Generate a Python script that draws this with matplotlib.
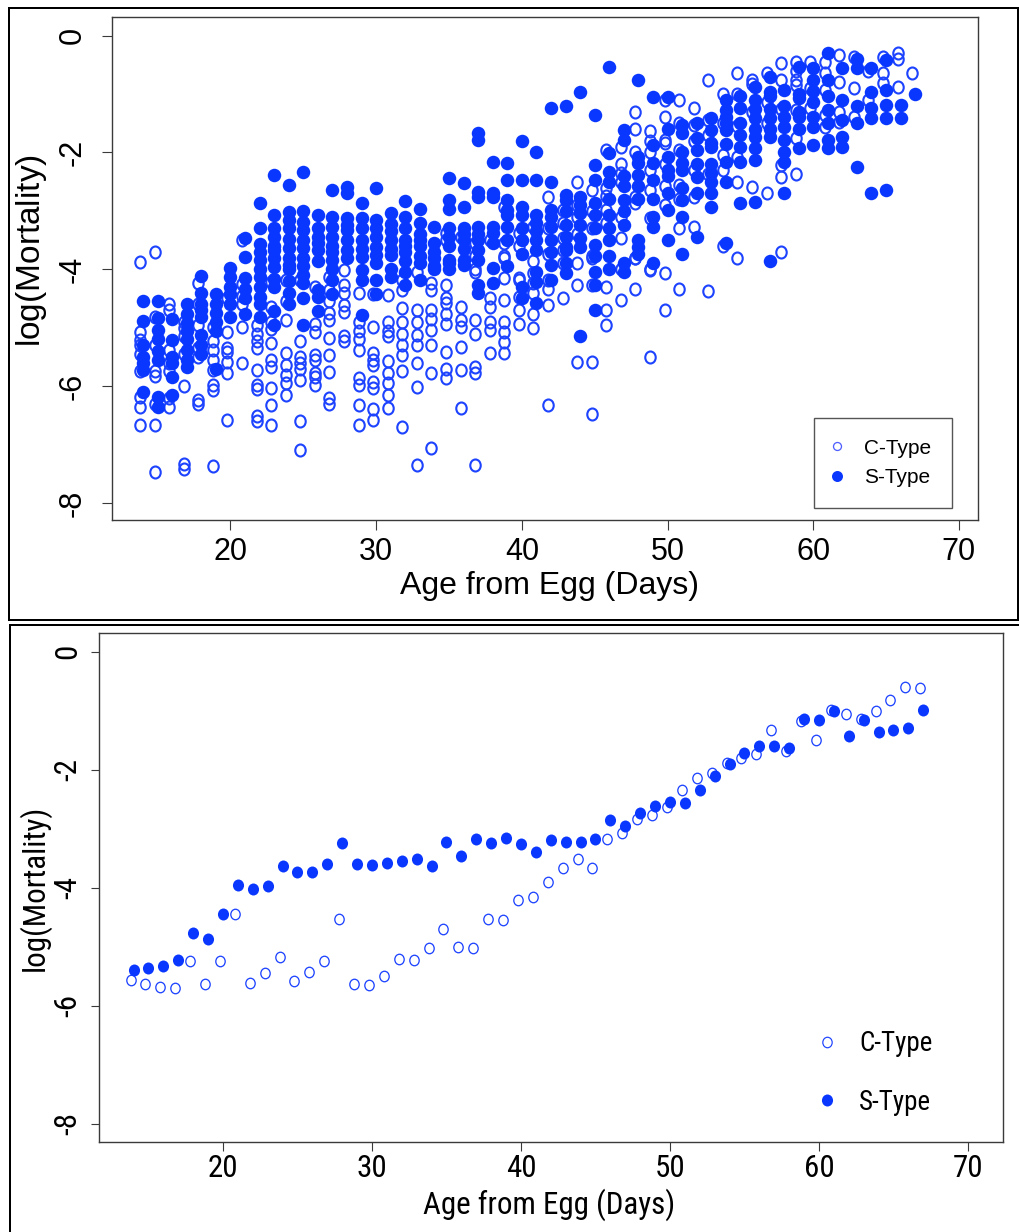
import numpy as np
import matplotlib
matplotlib.use("Agg")
import matplotlib.pyplot as plt
from matplotlib.path import Path
from matplotlib.lines import Line2D
from matplotlib.patches import Rectangle
import matplotlib.transforms as mtrans
from matplotlib import font_manager as fm

# ---------------- data ----------------
days = [14, 15, 16, 17, 18, 19, 20, 21, 22, 23, 24, 25, 26, 27, 28, 29, 30, 31, 32, 33,
        34, 35, 36, 37, 38, 39, 40, 41, 42, 43, 44, 45, 46, 47, 48, 49, 50, 51, 52, 53,
        54, 55, 56, 57, 58, 59, 60, 61, 62, 63, 64, 65, 66, 67]

# top panel: replicate log-mortality values per day (C-Type, open)
top_c = [
    [-3.88, -5.07, -5.21, -5.3, -5.45, -5.75, -6.18, -6.35, -6.67],
    [-3.71, -4.81, -5.3, -5.75, -5.82, -6.3, -6.67, -7.47],
    [-4.59, -4.7, -5.38, -5.6, -5.75, -6.2, -6.35],
    [-4.9, -5.0, -5.15, -5.45, -6.0, -7.33, -7.42],
    [-4.24, -4.6, -4.95, -5.35, -5.5, -6.23, -6.3],
    [-4.98, -5.23, -5.38, -5.55, -5.72, -5.98, -6.07, -7.37],
    [-4.5, -5.07, -5.35, -5.42, -5.58, -5.78, -6.58],
    [-3.5, -4.25, -4.45, -4.6, -4.98, -5.6],
    [-4.95, -5.1, -5.23, -5.35, -5.73, -5.98, -6.05, -6.52, -6.6],
    [-4.21, -4.64, -4.9, -5.03, -5.27, -5.55, -5.67, -6.04, -6.32, -6.67],
    [-4.18, -4.55, -4.87, -5.44, -5.64, -5.81, -5.95, -6.15],
    [-4.18, -5.23, -5.5, -5.6, -5.7, -5.9, -6.6, -7.1],
    [-4.3, -4.93, -5.07, -5.47, -5.55, -5.78, -5.84, -5.98],
    [-4.13, -4.36, -4.55, -4.75, -4.87, -5.17, -5.47, -5.76, -6.2, -6.3],
    [-4.01, -4.27, -4.41, -4.61, -4.73, -5.15, -5.22],
    [-4.41, -4.9, -5.05, -5.2, -5.38, -5.87, -5.98, -6.32, -6.67],
    [-4.42, -4.99, -5.44, -5.55, -5.64, -5.93, -6.04, -6.4, -6.58],
    [-4.44, -4.9, -5.05, -5.15, -5.57, -5.78, -5.95, -6.15, -6.37],
    [-4.18, -4.35, -4.67, -4.9, -5.1, -5.3, -5.46, -5.75, -6.7],
    [-4.04, -4.7, -4.9, -5.13, -5.3, -5.61, -6.01, -7.35],
    [-4.24, -4.35, -4.7, -4.85, -5.04, -5.3, -5.78, -7.06],
    [-3.38, -3.5, -4.27, -4.5, -4.58, -4.76, -4.93, -5.41, -5.7, -5.87],
    [-3.44, -4.64, -4.87, -4.98, -5.33, -5.73, -6.38],
    [-3.55, -3.78, -4.0, -4.04, -4.87, -5.1, -5.67, -5.78, -7.35],
    [-3.5, -4.5, -4.64, -4.9, -5.04, -5.44],
    [-2.93, -3.55, -3.78, -3.81, -4.15, -4.52, -4.9, -5.07, -5.24, -5.44],
    [-3.38, -3.6, -4.15, -4.18, -4.47, -4.7, -4.93],
    [-3.27, -3.85, -4.07, -4.24, -4.41, -4.76, -5.01],
    [-2.76, -3.3, -3.73, -4.18, -4.33, -4.61, -6.32],
    [-2.98, -3.2, -3.47, -3.67, -3.9, -4.5],
    [-2.5, -2.9, -3.1, -3.4, -3.9, -4.27, -5.58],
    [-2.64, -3.0, -3.3, -3.78, -3.81, -4.27, -5.58, -6.47],
    [-1.96, -2.6, -2.75, -2.98, -3.2, -4.3, -4.7, -4.95],
    [-1.9, -2.2, -2.35, -2.5, -3.1, -3.47, -4.0, -4.52],
    [-1.3, -1.6, -2.0, -2.76, -2.87, -3.8, -3.81, -4.33],
    [-1.64, -1.81, -2.0, -2.3, -2.64, -3.12, -4.0, -4.01, -5.5],
    [-1.1, -1.39, -1.78, -1.84, -2.2, -2.58, -2.9, -4.07, -4.7],
    [-1.1, -1.5, -1.96, -2.55, -2.8, -3.3, -4.33],
    [-1.23, -1.53, -1.8, -2.3, -2.76, -3.27],
    [-0.76, -1.44, -1.7, -2.36, -4.38],
    [-0.99, -1.5, -2.04, -2.3, -3.6],
    [-0.64, -1.0, -1.55, -2.07, -2.5, -3.8],
    [-0.76, -0.82, -1.3, -2.59],
    [-0.64, -1.13, -1.5, -2.7],
    [-0.47, -0.76, -1.25, -2.22, -2.42, -3.7],
    [-0.45, -0.6, -0.76, -0.85, -1.27, -1.76, -2.36],
    [-0.45, -0.9, -1.24],
    [-0.45, -0.64, -0.93, -1.36, -1.56],
    [-0.33, -0.79, -1.3, -1.47],
    [-0.36, -0.9, -1.39],
    [-0.6, -1.1],
    [-0.36, -0.64, -0.81],
    [-0.3, -0.4, -0.87],
    [-0.64],
]

# top panel: S-Type (filled)
top_s = [
    [-4.55, -4.88, -5.3, -5.5, -5.61, -5.73, -6.1],
    [-4.54, -4.83, -5.04, -5.2, -5.4, -5.55, -6.18, -6.35],
    [-4.85, -5.21, -5.5, -5.6, -5.85, -6.15],
    [-4.6, -4.76, -4.92, -5.05, -5.2, -5.38, -5.55, -5.67],
    [-4.11, -4.41, -4.59, -4.7, -4.81, -5.12, -5.3, -5.45],
    [-4.42, -4.6, -4.75, -4.9, -5.05, -5.7],
    [-3.98, -4.13, -4.3, -4.42, -4.6, -4.81],
    [-3.46, -3.79, -4.15, -4.33, -4.5, -4.76],
    [-2.87, -3.3, -3.56, -3.7, -3.84, -4.0, -4.13, -4.3, -4.47, -4.6, -4.81],
    [-2.39, -3.07, -3.3, -3.45, -3.6, -3.67, -3.8, -3.96, -4.16, -4.3, -4.72, -4.96],
    [-2.56, -3.02, -3.16, -3.3, -3.48, -3.64, -3.8, -3.93, -4.0, -4.2, -4.4, -4.59],
    [-2.34, -3.0, -3.19, -3.33, -3.5, -3.64, -3.8, -3.95, -4.1, -4.24, -4.5, -4.95],
    [-3.07, -3.3, -3.45, -3.55, -3.67, -3.85, -4.36, -4.47, -4.72],
    [-2.64, -3.1, -3.27, -3.45, -3.6, -3.7, -3.84, -4.0, -4.18, -4.42],
    [-2.59, -2.7, -3.13, -3.25, -3.33, -3.5, -3.67, -3.8],
    [-2.87, -3.13, -3.3, -3.5, -3.65, -3.79, -4.01, -4.18, -4.78],
    [-2.6, -3.15, -3.3, -3.45, -3.62, -3.75, -3.9, -4.18, -4.43],
    [-3.04, -3.22, -3.35, -3.5, -3.65, -3.75, -3.99, -4.13],
    [-2.83, -3.1, -3.3, -3.5, -3.6, -3.7, -3.85, -4.05, -4.27],
    [-2.97, -3.2, -3.4, -3.5, -3.6, -3.78, -3.9, -4.18],
    [-3.27, -3.55, -3.7, -3.8, -3.95, -4.0],
    [-2.43, -2.81, -2.96, -3.3, -3.44, -3.6, -3.84, -3.9, -4.0],
    [-2.53, -2.93, -3.3, -3.4, -3.5, -3.65, -3.84, -3.93],
    [-1.66, -1.78, -2.67, -2.76, -3.27, -3.4, -3.5, -3.67, -3.84, -4.27, -4.41],
    [-2.17, -2.7, -2.76, -3.27, -3.38, -3.55, -3.98, -4.24],
    [-2.18, -2.47, -2.81, -2.98, -3.07, -3.27, -3.5, -3.95],
    [-1.8, -2.47, -2.93, -3.07, -3.3, -3.5, -3.73, -4.3, -4.5],
    [-2.0, -2.47, -3.07, -3.21, -3.35, -3.5, -3.67, -4.04, -4.21, -4.58],
    [-1.23, -2.5, -2.98, -3.1, -3.27, -3.5, -3.7, -3.93, -4.18],
    [-1.2, -2.73, -2.81, -3.0, -3.24, -3.45, -3.61, -3.67, -3.9, -4.07],
    [-0.97, -2.76, -2.9, -3.04, -3.25, -3.47, -3.61, -5.15],
    [-1.36, -2.21, -2.47, -2.87, -3.07, -3.3, -3.58, -3.78, -4.04, -4.27, -4.69],
    [-0.54, -2.01, -2.33, -2.5, -2.8, -3.07, -3.3, -3.5, -3.78, -4.0],
    [-1.61, -1.78, -2.4, -2.58, -2.81, -3.0, -3.24, -3.9, -4.04],
    [-0.76, -2.07, -2.18, -2.38, -2.58, -2.8, -3.5, -3.61, -3.73],
    [-1.05, -1.87, -2.18, -2.47, -2.8, -3.1, -3.27, -3.9],
    [-1.05, -1.6, -2.07, -2.3, -2.41, -2.7, -2.98, -3.5],
    [-1.53, -1.67, -2.0, -2.18, -2.3, -2.6, -2.81, -3.1, -3.73],
    [-1.5, -1.76, -1.96, -2.19, -2.42, -2.7, -3.44],
    [-1.41, -1.61, -1.84, -1.9, -2.19, -2.35, -2.5, -2.7, -2.93],
    [-1.1, -1.27, -1.39, -1.5, -1.61, -1.85, -2.16, -2.5, -3.55],
    [-1.04, -1.24, -1.5, -1.7, -1.9, -2.16, -2.87],
    [-0.87, -1.1, -1.25, -1.41, -1.6, -1.73, -1.93, -2.13, -2.84],
    [-0.7, -0.96, -1.04, -1.25, -1.41, -1.6, -1.73, -3.86],
    [-0.93, -1.21, -1.4, -1.56, -1.79, -1.99, -2.16, -2.7],
    [-0.53, -0.99, -1.07, -1.3, -1.39, -1.6, -1.93],
    [-0.56, -0.76, -0.95, -1.13, -1.4, -1.56, -1.87],
    [-0.3, -0.76, -1.04, -1.27, -1.5, -1.79, -1.93],
    [-0.56, -1.1, -1.45, -1.73, -1.9],
    [-0.4, -0.56, -1.21, -1.5, -2.24],
    [-0.56, -0.96, -1.24, -1.41, -2.7],
    [-0.41, -0.93, -1.18, -1.41, -2.64],
    [-1.18, -1.41],
    [-1.0],
]

# bottom panel: one (mean) value per day
bottom_c = [-5.57, -5.63, -5.68, -5.70, -5.25, -5.64, -5.25, -4.45, -5.62, -5.45,
            -5.17, -5.58, -5.43, -5.24, -4.53, -5.63, -5.65, -5.50, -5.20, -5.23,
            -5.02, -4.70, -5.00, -5.03, -4.53, -4.55, -4.21, -4.15, -3.91, -3.67,
            -3.51, -3.66, -3.17, -3.08, -2.84, -2.76, -2.64, -2.34, -2.14, -2.05,
            -1.89, -1.81, -1.73, -1.33, -1.69, -1.18, -1.49, -0.98, -1.06, -1.14,
            -1.00, -0.82, -0.59, -0.62]
bottom_s = [-5.40, -5.36, -5.32, -5.22, -4.77, -4.87, -4.44, -3.95, -4.03, -3.97,
            -3.63, -3.74, -3.74, -3.60, -3.25, -3.59, -3.62, -3.58, -3.54, -3.51,
            -3.64, -3.22, -3.46, -3.17, -3.25, -3.15, -3.26, -3.40, -3.19, -3.23,
            -3.22, -3.18, -2.85, -2.96, -2.73, -2.61, -2.55, -2.56, -2.35, -2.11,
            -1.91, -1.71, -1.60, -1.59, -1.64, -1.14, -1.15, -1.01, -1.43, -1.16,
            -1.36, -1.32, -1.30, -0.99]

x_ticks = [20, 30, 40, 50, 60, 70]
y_ticks = [0, -2, -4, -6, -8]
legend_labels = ["C-Type", "S-Type"]
x_label = "Age from Egg (Days)"
y_label = "log(Mortality)"

# ---------------- style ----------------
W, H = 1020, 1232
DPI = 100
PT = 72.0 / DPI  # points per pixel


def have_font(name):
    try:
        fm.findfont(fm.FontProperties(family=name), fallback_to_default=False)
        return True
    except Exception:
        return False


REG = "Liberation Sans" if have_font("Liberation Sans") else "DejaVu Sans"


def find_narrow():
    prefs = ["Liberation Sans Narrow", "Arial Narrow", "Roboto Condensed",
             "Noto Sans Condensed", "Open Sans Condensed", "DejaVu Sans Condensed"]
    cands = []
    for f in fm.fontManager.ttflist:
        nm = f.name
        if f.style != "normal" or f.weight not in (400, "normal", "regular", "book"):
            continue
        if ("Narrow" in nm or "Condensed" in nm or
                f.stretch in ("condensed", "semi-condensed")):
            if "Mono" in nm or "Serif" in nm or "Extra" in nm or "Semi" in nm:
                continue
            cands.append(f)
    for p in prefs:
        for f in cands:
            if f.name == p:
                return fm.FontProperties(fname=f.fname)
    if cands:
        return fm.FontProperties(fname=cands[0].fname)
    return fm.FontProperties(family=REG)


NARROW_FP = find_narrow()

plt.rcParams["mathtext.fontset"] = "custom"
plt.rcParams["mathtext.rm"] = REG

FILL = "#0a37ff"
OPEN = "#1d43ff"
OPEN_LIGHT = "#5060ff"
BOX = "#3a3a3a"


def ellipse(aspect):
    c = Path.unit_circle()
    return Path(c.vertices * np.array([1.0, aspect]), c.codes)


O_MARK = ellipse(1.15)
O_MARK_B = ellipse(1.12)
DOT_B = ellipse(1.08)

fig = plt.figure(figsize=(W / DPI, H / DPI), dpi=DPI)
renderer = fig.canvas.get_renderer()

# size of the narrow-panel font: matched to the reference label width (254 px)
_t = fig.text(0, 0, x_label, fontproperties=NARROW_FP, fontsize=23)
_w = _t.get_window_extent(renderer=renderer).width
_t.remove()
FS_B = min(24.0, 23.0 * 254.0 / _w)


def fp_b(size):
    p = NARROW_FP.copy()
    p.set_size(size)
    return p


def axes_px(left, top, right, bottom):
    return fig.add_axes([left / W, 1 - bottom / H, (right - left) / W, (bottom - top) / H])


def style_axes(ax, fprop, xpad, ypad, ticklen):
    for s in ax.spines.values():
        s.set_color(BOX)
        s.set_linewidth(1.0)
    ax.set_xticks(x_ticks)
    ax.set_yticks(y_ticks)
    ax.set_xticklabels([str(t) for t in x_ticks], fontproperties=fprop)
    ax.set_yticklabels([str(t) for t in y_ticks], fontproperties=fprop,
                       rotation=90, va="center")
    ax.tick_params(axis="x", direction="out", length=ticklen, width=0.8, color=BOX, pad=xpad)
    ax.tick_params(axis="y", direction="out", length=ticklen, width=0.8, color=BOX, pad=ypad)


# ---------------- top panel ----------------
fig.add_artist(Rectangle((9 / W, 1 - 620 / H), 1009 / W, 612 / H, transform=fig.transFigure,
                         fill=False, edgecolor="black", linewidth=2 * PT))

ax1 = axes_px(111.7, 17.3, 978, 520)
off_c = mtrans.offset_copy(ax1.transData, fig=fig, x=-3, y=0, units="dots")
cx, cy = [], []
for d, vals in zip(days, top_c):
    cx += [d] * len(vals)
    cy += vals
sx, sy = [], []
for d, vals in zip(days, top_s):
    sx += [d] * len(vals)
    sy += vals
ax1.plot(cx, cy, linestyle="none", marker=O_MARK, markersize=12 * PT,
         markerfacecolor="none", markeredgecolor=OPEN, markeredgewidth=2.1 * PT,
         transform=off_c)
ax1.plot(sx, sy, linestyle="none", marker="o", markersize=13.5 * PT,
         markerfacecolor=FILL, markeredgewidth=0)
ax1.set_xlim(11.85, 71.31)
ax1.set_ylim(-8.293, 0.315)
fp_top = fm.FontProperties(family=REG, size=22)
style_axes(ax1, fp_top, 5, 10, 10 * PT)
ax1.text(0.505, -0.131, x_label, transform=ax1.transAxes, ha="center", va="center",
         fontfamily=REG, fontsize=23)
ax1.text(-0.093, 0.535, r"$\mathregular{log}\left(\mathregular{Mortality}\right)$",
         transform=ax1.transAxes, rotation=90, ha="center", va="center",
         fontfamily=REG, fontsize=24)

h1 = [Line2D([], [], linestyle="none", marker="o", markersize=8 * PT,
             markerfacecolor="none", markeredgecolor=OPEN_LIGHT, markeredgewidth=1.3 * PT),
      Line2D([], [], linestyle="none", marker="o", markersize=11 * PT,
             markerfacecolor=FILL, markeredgewidth=0)]
leg1 = ax1.legend(h1, legend_labels, loc="center",
                  bbox_to_anchor=((883 - 111.7) / 866.3, (520 - 463) / 502.7),
                  prop={"family": REG, "size": 15}, frameon=True, fancybox=False,
                  edgecolor="#555555", framealpha=1, borderpad=1.0, handlelength=0.2,
                  handletextpad=1.17, labelspacing=0.5, borderaxespad=0)
leg1.get_frame().set_linewidth(1.0)

# ---------------- bottom panel ----------------
fig.add_artist(Rectangle((10 / W, -20 / H), 1020 / W, (1232 - 625 + 20) / H,
                         transform=fig.transFigure, fill=False, edgecolor="black",
                         linewidth=2 * PT))

ax2 = axes_px(99, 632.7, 1003, 1141.7)
off_c2 = mtrans.offset_copy(ax2.transData, fig=fig, x=-3, y=0, units="dots")
ax2.plot(days, bottom_c, linestyle="none", marker=O_MARK_B, markersize=10.5 * PT,
         markerfacecolor="none", markeredgecolor=OPEN, markeredgewidth=1.3 * PT,
         transform=off_c2)
ax2.plot(days, bottom_s, linestyle="none", marker=DOT_B, markersize=12 * PT,
         markerfacecolor=FILL, markeredgewidth=0)
ax2.set_xlim(11.68, 72.35)
ax2.set_ylim(-8.305, 0.322)
style_axes(ax2, fp_b(FS_B), 2.5, 6, 8.5 * PT)
ax2.text(0.498, -0.1244, x_label, transform=ax2.transAxes, ha="center", va="center",
         fontproperties=fp_b(FS_B))
ax2.text(-0.0719, 0.4994, y_label,
         transform=ax2.transAxes, rotation=90, ha="center", va="center",
         fontproperties=fp_b(FS_B))

h2 = [Line2D([], [], linestyle="none", marker=O_MARK_B, markersize=10.5 * PT,
             markerfacecolor="none", markeredgecolor=OPEN, markeredgewidth=1.2 * PT),
      Line2D([], [], linestyle="none", marker=DOT_B, markersize=12 * PT,
             markerfacecolor=FILL, markeredgewidth=0)]
ax2.legend(h2, legend_labels, loc="center left",
           bbox_to_anchor=((819.75 - 99) / 904, (1141.7 - 1073) / 509),
           prop=fp_b(FS_B * 20.0 / 23.0), frameon=False, borderpad=0,
           handlelength=0.5, handletextpad=0.95, labelspacing=1.15, borderaxespad=0)

fig.savefig("out.png", dpi=DPI)
